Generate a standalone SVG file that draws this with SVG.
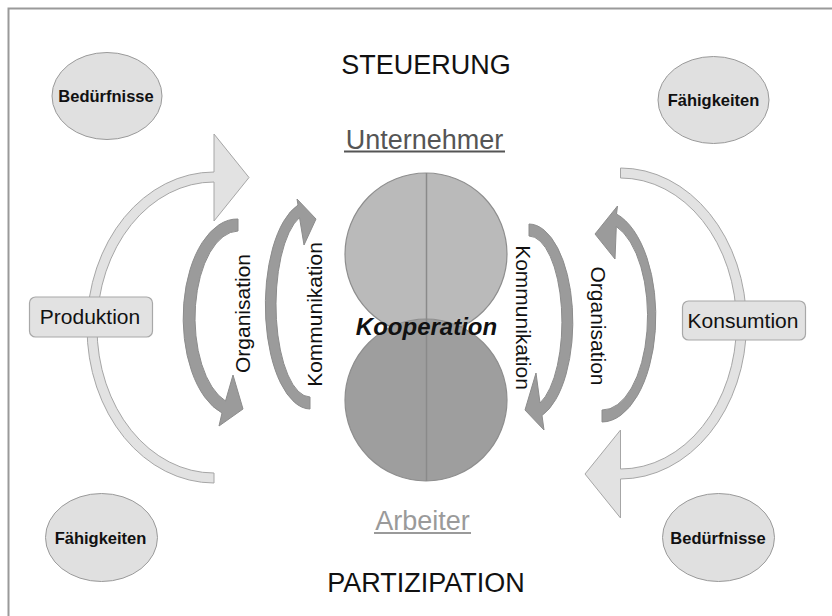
<svg xmlns="http://www.w3.org/2000/svg" width="832" height="616" viewBox="0 0 832 616">
<style>
text{font-family:"Liberation Sans",Arial,sans-serif;fill:#111}
.big{font-size:27px;text-anchor:middle}
.ell{fill:#e0e0e0;stroke:#9a9a9a;stroke-width:1}
.ellt{font-size:16.5px;font-weight:bold;text-anchor:middle}
.box{fill:#e2e2e2;stroke:#a8a8a8;stroke-width:1.2}
.boxt{font-size:21px;text-anchor:middle}
.light{fill:#e2e2e2;stroke:#a6a6a6;stroke-width:1}
.dark{fill:#9b9b9b;stroke:#8c8c8c;stroke-width:1}
.rot{font-size:21px;text-anchor:middle}
</style>
<rect x="8.5" y="8.5" width="900" height="700" fill="#fff" stroke="#9a9a9a" stroke-width="2"/>

<g id="connectors">
  <path id="arc-left" class="light" d="M 214 483 A 127 155.5 0 0 1 214 172 L 214 134 L 249 177.5 L 214 221 L 214 182 A 117 145.5 0 0 0 214 473 Z"/>
  <path id="arc-right" class="light" d="M 620.5 168 A 126 155.5 0 0 1 620.5 479 L 620.5 518 L 585 474 L 620.5 430 L 620.5 469 A 116 145.5 0 0 0 620.5 178 Z"/>
  <path id="org-left" class="dark" d="M 238 219 A 54 99 0 0 0 222 413 L 219 426 L 243 409 L 233 375 L 225.5 401 A 43.5 87 0 0 1 238 231 Z"/>
  <path id="komm-left" class="dark" d="M 310 409 A 45 104 0 0 1 298 205 L 297 199 L 316 219 L 304 245 L 299.5 217.5 A 34 92 0 0 0 310 397 Z"/>
  <path id="komm-right" class="dark" d="M 529 224 A 44 98 0 0 1 542 415.5 L 544 430 L 525 410 L 536 373 L 540 403 A 33 86 0 0 0 529 236 Z"/>
  <path id="org-right" class="dark" d="M 602 422 A 54 106 0 0 0 616.5 214 L 617.5 206 L 595 234 L 615 259 L 616.3 226.5 A 45 94 0 0 1 602 410 Z"/>
</g>

<g id="steuerung"><text class="big" x="426" y="73.5">STEUERUNG</text></g>
<g id="partizipation"><text class="big" x="426" y="591.5">PARTIZIPATION</text></g>

<g id="unternehmer">
  <text class="big" x="424.5" y="148.5" style="fill:#555">Unternehmer</text>
  <line x1="344" y1="151.5" x2="505" y2="151.5" stroke="#555" stroke-width="2"/>
</g>
<g id="arbeiter">
  <text class="big" x="422.5" y="529.5" style="fill:#9a9a9a">Arbeiter</text>
  <line x1="374" y1="533" x2="471" y2="533" stroke="#9a9a9a" stroke-width="2"/>
</g>

<g id="kooperation">
  <ellipse cx="426" cy="254" rx="81" ry="81" fill="#bababa" stroke="#8e8e8e" stroke-width="1.2"/>
  <ellipse cx="426" cy="400" rx="81" ry="81" fill="#9e9e9e" stroke="#8e8e8e" stroke-width="1.2"/>
  <line x1="426.5" y1="173" x2="426.5" y2="481" stroke="#8a8a8a" stroke-width="1.5"/>
  <text x="426.5" y="334.5" style="font-size:24px;font-weight:bold;font-style:italic;text-anchor:middle">Kooperation</text>
</g>

<g id="produktion">
  <rect class="box" x="29.5" y="297" width="123" height="40" rx="6"/>
  <text class="boxt" x="90" y="323.5">Produktion</text>
</g>
<g id="konsumtion">
  <rect class="box" x="682.5" y="301" width="123" height="39" rx="6"/>
  <text class="boxt" x="743" y="328">Konsumtion</text>
</g>

<g id="label-org-left"><text class="rot" transform="translate(249.5,313.5) rotate(-90)">Organisation</text></g>
<g id="label-komm-left"><text class="rot" transform="translate(322,314.5) rotate(-90)">Kommunikation</text></g>
<g id="label-komm-right"><text class="rot" transform="translate(516,317.5) rotate(90)">Kommunikation</text></g>
<g id="label-org-right"><text class="rot" transform="translate(590.5,326) rotate(90)">Organisation</text></g>

<g id="beduerfnisse-tl">
  <ellipse class="ell" cx="107" cy="96" rx="55" ry="43.5"/>
  <text class="ellt" x="106" y="101.5">Bedürfnisse</text>
</g>
<g id="faehigkeiten-tr">
  <ellipse class="ell" cx="713.5" cy="100" rx="55.5" ry="43.5"/>
  <text class="ellt" x="713.5" y="105.5">Fähigkeiten</text>
</g>
<g id="faehigkeiten-bl">
  <ellipse class="ell" cx="101.5" cy="537.5" rx="56" ry="44"/>
  <text class="ellt" x="100.5" y="543.5">Fähigkeiten</text>
</g>
<g id="beduerfnisse-br">
  <ellipse class="ell" cx="718.5" cy="537.5" rx="56" ry="44"/>
  <text class="ellt" x="718" y="543.5">Bedürfnisse</text>
</g>
</svg>
